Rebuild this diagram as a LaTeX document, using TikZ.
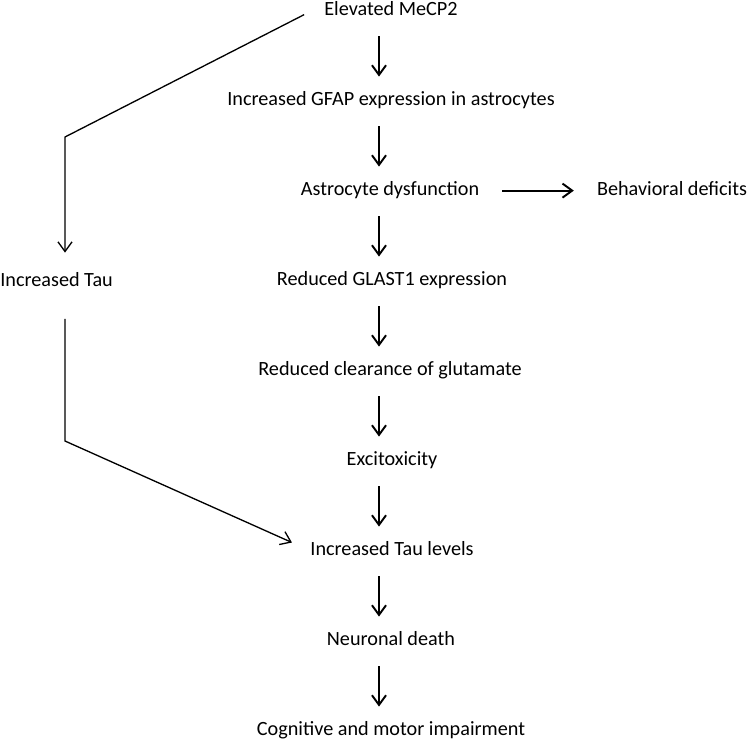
\documentclass[tikz,border=0pt]{standalone}
\usepackage{fontspec}
\setmainfont{Carlito}
\usepackage{tikz}
\usetikzlibrary{arrows.meta}

\tikzset{
  step box/.style={inner sep=0pt, anchor=base, text height=7.5pt, text depth=2.5pt, font=\fontsize{11.5}{13}\selectfont},
  flow/.style={line width=1.1pt, -{Straight Barb[length=5.5pt,width=8pt]}, shorten <=9.4pt, shorten >=8.5pt},
  side/.style={flow, line width=0.75pt},
}

\begin{document}
\begin{tikzpicture}[x=0.02cm,y=-0.02cm]
    \useasboundingbox (0,0) rectangle (750,741);
    % main chain
    \node[step box] (elev)   at (391,15)  {Elevated MeCP2};
    \node[step box] (gfap)   at (391,105) {Increased GFAP expression in astrocytes};
    \node[step box] (astro)  at (390,195) {Astrocyte dysfunction};
    \node[step box] (behav)  at (672,195) {Behavioral deficits};
    \node[step box] (glast)  at (392,285) {Reduced GLAST1 expression};
    \node[step box] (clear)  at (390,375) {Reduced clearance of glutamate};
    \node[step box] (excit)  at (392,465) {Excitoxicity};
    \node[step box] (taulev) at (392,555) {Increased Tau levels};
    \node[step box] (death)  at (391,645) {Neuronal death};
    \node[step box] (cogn)   at (391,735) {Cognitive and motor impairment};
    % side branch
    \node[step box, anchor=base west] (tau) at (0,286) {Increased Tau};
    \coordinate (col) at (379,0);
    \coordinate (bendA) at (65,137);
    \coordinate (bendB) at (65,441);

    \draw[flow] (elev.south -| col)   -- (gfap.north -| col);
    \draw[flow] (gfap.south -| col)   -- (astro.north -| col);
    \draw[flow] (astro.south -| col)  -- (glast.north -| col);
    \draw[flow] (glast.south -| col)  -- (clear.north -| col);
    \draw[flow] (clear.south -| col)  -- (excit.north -| col);
    \draw[flow] (excit.south -| col)  -- (taulev.north -| col);
    \draw[flow] (taulev.south -| col) -- (death.north -| col);
    \draw[flow] (death.south -| col)  -- (cogn.north -| col);
    \draw[flow, shorten <=13pt, shorten >=13pt] (astro.east) -- (behav.west);

    \draw[side, shorten <=0pt, shorten >=11.3pt]
      ([xshift=-11.3pt,yshift=-2.3pt]elev.west) -- (bendA) -- (bendA |- tau.north);
    \draw[side, shorten <=16pt, shorten >=11.3pt]
      (bendB |- tau.south) -- (bendB) -- (taulev.west);
\end{tikzpicture}
\end{document}
